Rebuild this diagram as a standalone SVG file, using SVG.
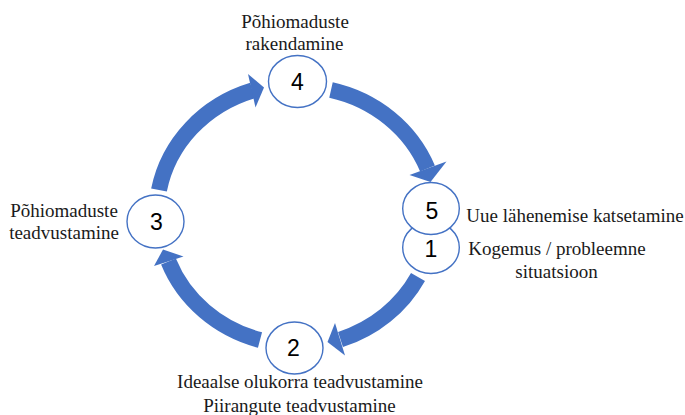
<svg xmlns="http://www.w3.org/2000/svg" width="685" height="415" viewBox="0 0 685 415">
<style>
.body{fill:none;stroke:#4472C4;stroke-width:16;stroke-linecap:butt}
.head{fill:#4472C4}
.node{fill:#fff;stroke:#4472C4;stroke-width:1.4}
.num{font-family:"Liberation Sans",Arial,sans-serif;font-size:23px;fill:#000;text-anchor:middle}
.lbl{font-family:"Liberation Serif","Times New Roman",serif;font-size:19px;fill:#1a1a1a;text-anchor:middle}
</style>
<rect width="685" height="415" fill="#fff"/>
<g id="connectors">
<path class="body" d="M159,190 A138,130 0 0 1 252.5,90.5"/>
<polygon class="head" points="248,74 264,87.5 255.5,107.5"/>
<path class="body" d="M331,90 A138,130 0 0 1 427.5,168.5"/>
<polygon class="head" points="409.5,175 430.5,182 446.5,161.5"/>
<path class="body" d="M418,277 A138,130 0 0 1 340.5,339.5"/>
<polygon class="head" points="335,323 327.5,342 345,355.5"/>
<path class="body" d="M260,340 A138,130 0 0 1 168.5,261.5"/>
<polygon class="head" points="183.5,256.5 163,249.5 154,266"/>
</g>
<g id="node4">
<ellipse class="node" cx="297.5" cy="81.5" rx="29" ry="26"/>
<text class="num" x="297.5" y="89.5">4</text>
<text class="lbl" x="295" y="28">Põhiomaduste</text>
<text class="lbl" x="294.5" y="50">rakendamine</text>
</g>
<g id="node3">
<ellipse class="node" cx="155.5" cy="221.5" rx="28.5" ry="26.5"/>
<text class="num" x="156.5" y="229.5">3</text>
<text class="lbl" x="64" y="216.5">Põhiomaduste</text>
<text class="lbl" x="64" y="238.5">teadvustamine</text>
</g>
<g id="node2">
<ellipse class="node" cx="294.5" cy="348" rx="28.5" ry="26"/>
<text class="num" x="293.5" y="356">2</text>
<text class="lbl" x="300" y="388">Ideaalse olukorra teadvustamine</text>
<text class="lbl" x="299.5" y="411.5">Piirangute teadvustamine</text>
</g>
<g id="node1">
<ellipse class="node" cx="431" cy="247.5" rx="28.3" ry="26"/>
<text class="num" x="431" y="257">1</text>
<text class="lbl" x="557" y="254.5">Kogemus / probleemne</text>
<text class="lbl" x="556.5" y="278">situatsioon</text>
</g>
<g id="node5">
<ellipse class="node" cx="431" cy="208.5" rx="28.3" ry="26"/>
<text class="num" x="432" y="218.5">5</text>
<text class="lbl" x="575" y="221.5">Uue lähenemise katsetamine</text>
</g>
</svg>
